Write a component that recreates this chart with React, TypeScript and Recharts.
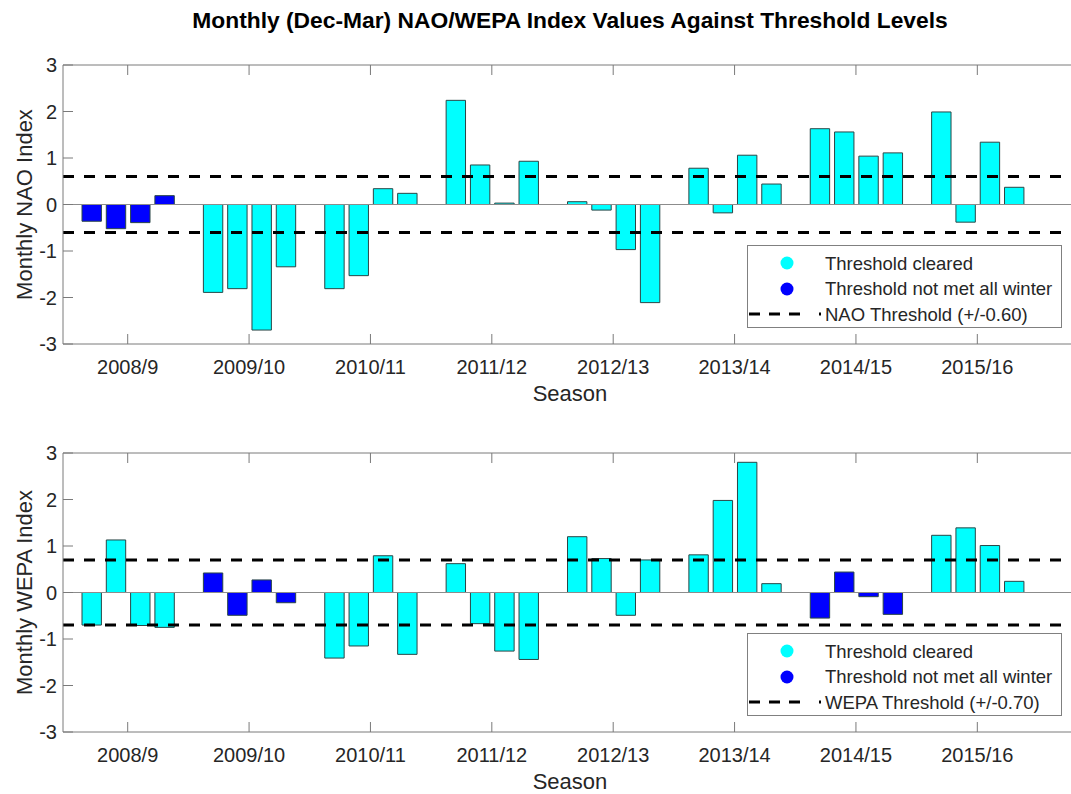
import React from "react";
import { Bar, BarChart, Cell, Legend, ReferenceLine, XAxis, YAxis } from "recharts";

const seasons = ["2008/9", "2009/10", "2010/11", "2011/12", "2012/13", "2013/14", "2014/15", "2015/16"];
const months = ["dec", "jan", "feb", "mar"];

// NAO monthly index, one array per month, one value per season
const naoDec = [-0.36, -1.89, -1.81, 2.24, 0.06, 0.78, 1.63, 1.99];
const naoJan = [-0.52, -1.81, -1.53, 0.85, -0.12, -0.18, 1.56, -0.38];
const naoFeb = [-0.39, -2.7, 0.34, 0.03, -0.97, 1.06, 1.04, 1.34];
const naoMar = [0.19, -1.34, 0.24, 0.93, -2.11, 0.44, 1.11, 0.37];
const naoCleared = [false, true, true, true, true, true, true, true];

// WEPA monthly index
const wepaDec = [-0.7, 0.42, -1.41, 0.62, 1.2, 0.81, -0.55, 1.23];
const wepaJan = [1.13, -0.49, -1.15, -0.67, 0.73, 1.98, 0.44, 1.39];
const wepaFeb = [-0.71, 0.27, 0.79, -1.26, -0.49, 2.8, -0.09, 1.01];
const wepaMar = [-0.75, -0.22, -1.33, -1.44, 0.7, 0.19, -0.47, 0.24];
const wepaCleared = [true, false, true, true, true, true, false, true];

const yTicks = [-3, -2, -1, 0, 1, 2, 3];
const legendLabels = ["Threshold cleared", "Threshold not met all winter"];

const FONT = "'Liberation Sans', Arial, Helvetica, sans-serif";
const AXIS = "#7a7a7a";
const TEXT = "#262626";
const CYAN = "#00ffff";
const BLUE = "#0000ff";

const BottomTick = (props: any) => {
  const { x, y, payload } = props;
  return (
    <g>
      <line x1={x} y1={y} x2={x} y2={y - 10} stroke={AXIS} strokeWidth={1} />
      <text x={x} y={y + 23} textAnchor="middle" dominantBaseline="central" fontSize={20} fill={TEXT} fontFamily={FONT}>
        {payload.value}
      </text>
    </g>
  );
};

const TopTick = (props: any) => {
  const { x, y } = props;
  return <line x1={x} y1={y} x2={x} y2={y + 10} stroke={AXIS} strokeWidth={1} />;
};

const LeftTick = (props: any) => {
  const { x, y, payload } = props;
  return (
    <g>
      <line x1={x} y1={y} x2={x + 10} y2={y} stroke={AXIS} strokeWidth={1} />
      <text x={x - 6} y={y} textAnchor="end" dominantBaseline="central" fontSize={20} fill={TEXT} fontFamily={FONT}>
        {payload.value}
      </text>
    </g>
  );
};

const RightTick = (props: any) => {
  const { x, y } = props;
  return <line x1={x} y1={y} x2={x - 10} y2={y} stroke={AXIS} strokeWidth={1} />;
};

type PanelProps = {
  values: number[][];
  cleared: boolean[];
  threshold: number;
  yLabel: string;
  thresholdLabel: string;
  top: number;
};

const Panel = ({ values, cleared, threshold, yLabel, thresholdLabel, top }: PanelProps) => {
  const rows = seasons.map((season, i) => {
    const row: Record<string, string | number> = { season };
    months.forEach((m, j) => {
      row[m] = values[j][i];
    });
    return row;
  });

  const renderLegend = () => (
    <svg width={315} height={83} style={{ display: "block" }}>
      <rect x={0.5} y={0.5} width={314} height={82} fill="#fff" stroke="#808080" />
      <circle cx={40} cy={18} r={6.5} fill={CYAN} />
      <circle cx={40} cy={44} r={6.5} fill={BLUE} />
      <line x1={2} y1={69} x2={75} y2={69} stroke="#000" strokeWidth={3} strokeDasharray="11 9 11 9 11 19 2 100" />
      {[...legendLabels, thresholdLabel].map((label, i) => (
        <text key={label} x={78} y={18 + i * 25.5} dominantBaseline="central" fontSize={18.5} fill={TEXT} fontFamily={FONT}>
          {label}
        </text>
      ))}
    </svg>
  );

  return (
    <div style={{ position: "absolute", left: 0, top }}>
      <BarChart width={1085} height={420} data={rows} margin={{ top: 64, right: 0, bottom: 16, left: 0 }} barGap={4.9}>
        <XAxis
          dataKey="season"
          interval={0}
          tickLine={false}
          tickSize={0}
          tickMargin={0}
          height={60}
          padding={{ left: 4, right: 39 }}
          axisLine={{ stroke: AXIS }}
          tick={<BottomTick />}
          label={{
            content: (p: any) => (
              <text
                x={p.viewBox.x + p.viewBox.width / 2}
                y={p.viewBox.y + 49}
                textAnchor="middle"
                dominantBaseline="central"
                fontSize={22}
                fill={TEXT}
                fontFamily={FONT}
              >
                Season
              </text>
            ),
          }}
        />
        <XAxis
          xAxisId="top"
          orientation="top"
          dataKey="season"
          interval={0}
          tickLine={false}
          tickSize={0}
          tickMargin={0}
          height={1}
          padding={{ left: 4, right: 39 }}
          axisLine={{ stroke: AXIS }}
          tick={<TopTick />}
        />
        <YAxis
          domain={[-3, 3]}
          ticks={yTicks}
          interval={0}
          width={63}
          tickLine={false}
          tickSize={0}
          tickMargin={0}
          axisLine={{ stroke: AXIS }}
          tick={<LeftTick />}
          label={{
            content: (p: any) => {
              const cx = 24;
              const cy = p.viewBox.y + p.viewBox.height / 2;
              return (
                <text
                  x={cx}
                  y={cy}
                  transform={`rotate(-90, ${cx}, ${cy})`}
                  textAnchor="middle"
                  dominantBaseline="central"
                  fontSize={22}
                  fill={TEXT}
                  fontFamily={FONT}
                >
                  {yLabel}
                </text>
              );
            },
          }}
        />
        <YAxis
          yAxisId="right"
          orientation="right"
          domain={[-3, 3]}
          ticks={yTicks}
          interval={0}
          width={8}
          tickLine={false}
          tickSize={0}
          tickMargin={0}
          axisLine={{ stroke: AXIS }}
          tick={<RightTick />}
        />
        <ReferenceLine y={0} stroke="#8c8c8c" strokeWidth={1} />
        {months.map((m) => (
          <Bar key={m} dataKey={m} barSize={19.4} stroke="#2a4646" strokeWidth={1} isAnimationActive={false}>
            {cleared.map((ok, i) => (
              <Cell key={i} fill={ok ? CYAN : BLUE} />
            ))}
          </Bar>
        ))}
        <ReferenceLine y={threshold} stroke="#000" strokeWidth={3} strokeDasharray="11 10" />
        <ReferenceLine y={-threshold} stroke="#000" strokeWidth={3} strokeDasharray="11 10" />
        <Legend
          layout="horizontal"
          verticalAlign="middle"
          align="center"
          width={315}
          content={renderLegend}
          wrapperStyle={{ left: 747, top: 245, width: 315, height: 83 }}
        />
      </BarChart>
    </div>
  );
};

export default function App() {
  return (
    <div
      style={{
        position: "absolute",
        left: 0,
        top: 0,
        width: 1071,
        height: 794,
        overflow: "hidden",
        background: "#fff",
        fontFamily: FONT,
      }}
    >
      <Panel
        values={[naoDec, naoJan, naoFeb, naoMar]}
        cleared={naoCleared}
        threshold={0.6}
        yLabel="Monthly NAO Index"
        thresholdLabel="NAO Threshold (+/-0.60)"
        top={0}
      />
      <Panel
        values={[wepaDec, wepaJan, wepaFeb, wepaMar]}
        cleared={wepaCleared}
        threshold={0.7}
        yLabel="Monthly WEPA Index"
        thresholdLabel="WEPA Threshold (+/-0.70)"
        top={388}
      />
      <div
        style={{
          position: "absolute",
          left: 0,
          top: 7,
          width: 1140,
          textAlign: "center",
          fontWeight: "bold",
          fontSize: 22.8,
          lineHeight: "26px",
          color: "#000",
        }}
      >
        Monthly (Dec-Mar) NAO/WEPA Index Values Against Threshold Levels
      </div>
    </div>
  );
}
